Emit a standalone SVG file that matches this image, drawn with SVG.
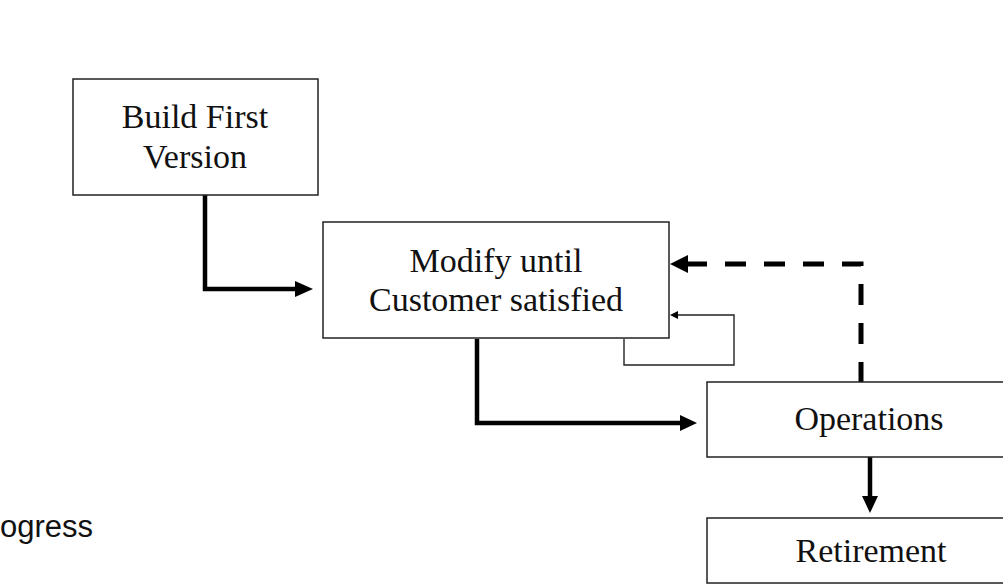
<svg xmlns="http://www.w3.org/2000/svg" width="1003" height="587" viewBox="0 0 1003 587">
  <style>
    .box { fill: #ffffff; stroke: #222222; stroke-width: 1.5; }
    .lbl { font-family: "Liberation Serif", "Times New Roman", serif; font-size: 34px; fill: #111111; text-anchor: middle; }
    .thick { fill: none; stroke: #000000; stroke-width: 4.5; stroke-linejoin: miter; }
    .dash { fill: none; stroke: #000000; stroke-width: 5; stroke-dasharray: 21 18; }
    .thin { fill: none; stroke: #222222; stroke-width: 1.4; }
    .head { fill: #000000; }
    .side { font-family: "Liberation Sans", Arial, sans-serif; font-size: 31px; fill: #111111; }
  </style>
  <rect width="1003" height="587" fill="#ffffff"/>
  <text class="side" x="0" y="537">ogress</text>

  <g id="connectors">
    <path class="thick" d="M205,195 V289 H297"/>
    <polygon class="head" points="295,281 313,289 295,297"/>
    <path class="thick" d="M477,339 V423 H682"/>
    <polygon class="head" points="680,415 697,423 680,431"/>
    <path class="dash" d="M861,383 V264 H686"/>
    <polygon class="head" points="688,255 670,264 688,273"/>
    <path class="thin" d="M624,339 V365 H734 V315 H677"/>
    <polygon class="head" points="678,311 670,315 678,319"/>
    <path class="thick" d="M870,457 V498"/>
    <polygon class="head" points="862,496 870,513 878,496"/>
  </g>

  <g id="node-build">
    <rect class="box" x="73" y="79" width="245" height="116"/>
    <text class="lbl" x="195" y="128">Build First</text>
    <text class="lbl" x="195" y="168">Version</text>
  </g>
  <g id="node-modify">
    <rect class="box" x="323" y="222" width="346" height="116"/>
    <text class="lbl" x="496" y="272">Modify until</text>
    <text class="lbl" x="496" y="311">Customer satisfied</text>
  </g>
  <g id="node-operations">
    <rect class="box" x="707" y="382" width="310" height="75"/>
    <text class="lbl" x="869" y="430">Operations</text>
  </g>
  <g id="node-retirement">
    <rect class="box" x="707" y="518" width="310" height="65"/>
    <text class="lbl" x="871" y="562">Retirement</text>
  </g>
</svg>
